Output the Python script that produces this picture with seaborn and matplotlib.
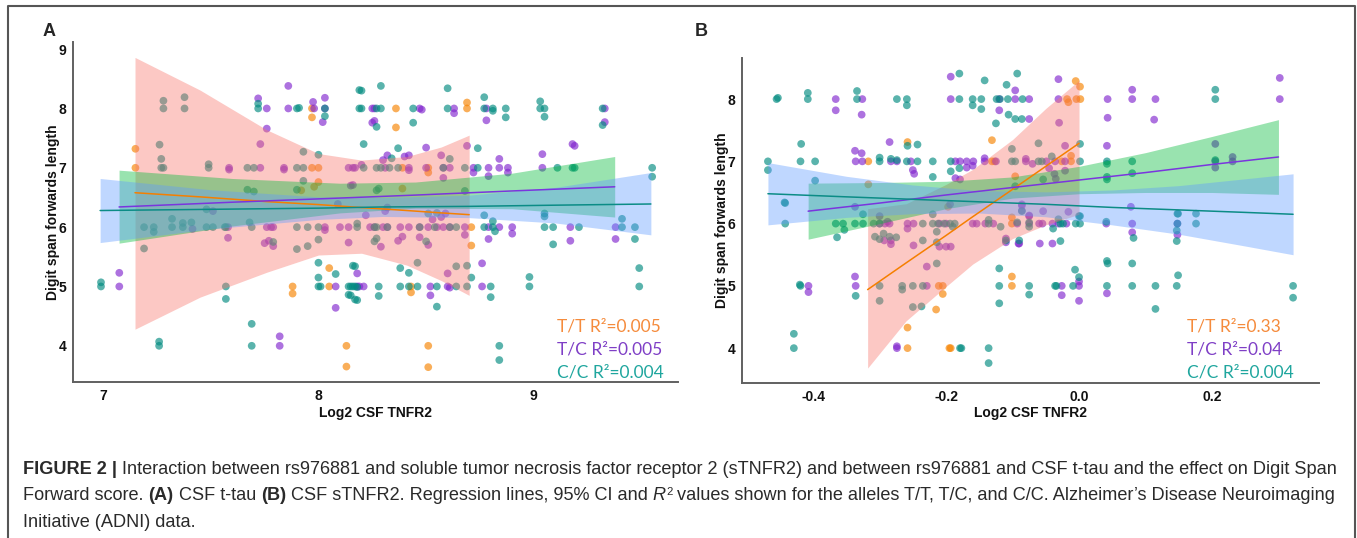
import matplotlib
matplotlib.use("Agg")
import matplotlib.pyplot as plt
import pandas as pd
import seaborn as sns
from matplotlib.lines import Line2D

W, H = 1357, 538

alleles = ["T/T", "T/C", "C/C"]
point_colors = {"T/T": "#F68300", "T/C": "#8126CE", "C/C": "#018B80"}
line_colors = {"T/T": "#F57F00", "T/C": "#7A35DE", "C/C": "#0B8C86"}
band_colors = {"T/T": "#F8766D", "T/C": "#00BA38", "C/C": "#619CFF"}
text_colors = {"T/T": "#F58B3C", "T/C": "#7F3FC6", "C/C": "#1FA69E"}

# ---------------- panel A : CSF t-tau ----------------
a_tt = [(7.15, 7.32), (7.15, 7.00), (7.92, 6.62), (7.98, 6.68), (8.00, 6.76), (7.97, 7.00),
        (8.00, 7.00), (7.97, 8.00), (7.97, 7.85), (7.88, 5.00), (7.88, 4.88), (8.05, 5.31),
        (8.05, 5.00), (8.13, 4.00), (8.13, 3.65), (8.36, 8.00), (8.36, 7.68), (8.69, 8.10),
        (8.69, 8.00), (8.39, 7.00), (8.51, 7.00), (8.51, 6.92), (8.39, 6.65), (8.71, 6.00),
        (8.71, 5.69), (8.43, 5.00), (8.43, 4.90), (8.51, 4.00), (8.51, 3.64)]
a_tc = [(7.075, 5.23), (7.075, 5.00), (7.415, 5.97), (7.51, 6.27), (7.585, 7.00), (7.585, 6.97),
        (7.58, 6.00), (7.58, 5.82), (7.73, 7.00), (7.73, 7.40), (7.76, 7.66), (7.72, 8.17),
        (7.76, 8.00), (7.86, 8.38), (7.86, 8.00), (7.975, 8.11), (7.98, 8.00), (8.03, 8.18),
        (8.03, 8.00), (8.02, 7.77), (7.84, 7.00), (7.84, 6.97), (7.76, 6.00), (7.78, 6.00),
        (7.79, 6.00), (7.75, 5.73), (7.77, 5.77), (7.79, 5.68), (7.82, 4.16), (7.82, 4.00),
        (8.03, 6.00), (8.03, 5.95), (8.08, 5.00), (8.08, 4.64), (8.09, 6.39), (8.10, 6.00),
        (8.14, 6.00), (8.14, 5.74), (8.14, 7.00), (8.16, 7.00), (8.15, 6.70), (8.16, 6.71),
        (8.18, 5.22), (8.18, 5.00), (8.25, 8.00), (8.26, 8.00), (8.25, 7.76), (8.26, 7.79),
        (8.47, 8.00), (8.48, 7.98), (8.63, 8.00), (8.63, 7.92), (8.78, 8.00), (8.78, 7.80),
        (9.33, 8.00), (9.33, 7.77), (8.50, 7.34), (8.69, 7.37), (8.84, 7.15), (9.04, 7.23),
        (9.18, 7.40), (9.19, 7.37), (8.32, 7.21), (8.30, 7.13), (8.40, 7.19), (8.42, 7.21),
        (8.57, 7.21), (8.17, 7.00), (8.20, 7.05), (8.31, 7.00), (8.42, 7.00), (8.42, 6.96),
        (8.50, 7.00), (8.58, 7.00), (8.61, 7.00), (8.58, 6.83), (8.72, 7.00), (8.72, 6.92),
        (8.79, 7.00), (8.79, 6.86), (8.84, 7.00), (8.88, 7.00), (8.88, 6.92), (9.04, 7.00),
        (8.22, 6.20), (8.31, 6.27), (8.32, 6.33), (8.53, 6.13), (8.57, 6.17), (8.59, 6.23),
        (8.24, 6.00), (8.26, 6.00), (8.30, 6.00), (8.32, 6.00), (8.38, 6.00), (8.42, 6.00),
        (8.47, 6.00), (8.51, 6.00), (8.55, 6.00), (8.58, 6.00), (8.61, 6.00), (8.68, 6.00),
        (8.79, 6.00), (8.84, 6.00), (8.90, 6.00), (9.17, 6.00), (9.38, 6.00), (8.90, 5.89),
        (8.79, 5.80), (9.17, 5.77), (9.38, 5.80), (8.29, 5.67), (8.37, 5.77), (8.39, 5.84),
        (8.47, 5.83), (8.51, 5.70), (8.68, 5.87), (8.19, 5.00), (8.21, 5.00), (8.52, 5.00),
        (8.52, 4.85), (8.60, 5.00), (8.61, 4.98), (8.60, 5.22), (8.76, 5.39), (8.76, 5.00)]
a_cc = [(6.99, 5.07), (6.99, 5.00), (7.19, 5.64), (7.26, 4.07), (7.26, 4.00), (7.19, 6.00),
        (7.235, 6.00), (7.235, 5.92), (7.32, 6.14), (7.32, 6.00), (7.37, 6.07), (7.37, 6.00),
        (7.41, 6.08), (7.48, 6.30), (7.48, 6.00), (7.51, 6.00), (7.565, 6.00), (7.57, 6.00),
        (7.57, 5.00), (7.57, 4.79), (7.68, 6.08), (7.69, 6.00), (7.69, 4.37), (7.69, 4.00),
        (7.79, 5.75), (7.90, 6.00), (7.95, 6.00), (7.90, 5.63), (7.95, 5.68), (8.00, 6.00),
        (8.00, 5.79), (8.00, 5.40), (8.00, 5.15), (8.00, 5.00), (8.01, 5.00), (8.08, 5.21),
        (8.18, 6.06), (8.16, 5.35), (8.14, 5.00), (8.16, 5.00), (8.18, 4.99), (8.14, 4.86),
        (8.17, 4.78), (7.28, 8.13), (7.28, 8.00), (7.378, 8.19), (7.378, 8.00), (7.262, 7.39),
        (7.27, 7.15), (7.27, 7.00), (7.28, 7.00), (7.49, 7.06), (7.49, 7.00), (7.67, 7.00),
        (7.70, 7.00), (7.72, 8.08), (7.72, 8.00), (7.90, 8.00), (7.91, 8.01), (8.03, 8.00),
        (8.03, 7.87), (7.90, 7.00), (7.93, 7.00), (7.93, 7.27), (8.00, 7.22), (7.93, 6.78),
        (7.90, 6.63), (7.67, 6.63), (7.70, 6.60), (8.19, 8.31), (8.19, 8.00), (8.20, 8.30),
        (8.20, 8.00), (8.27, 8.00), (8.29, 8.00), (8.29, 8.38), (8.27, 7.69), (8.44, 8.00),
        (8.44, 7.76), (8.60, 8.34), (8.60, 8.00), (8.77, 8.19), (8.77, 8.00), (8.81, 8.00),
        (8.81, 7.96), (8.87, 8.00), (8.87, 7.85), (9.03, 8.12), (9.03, 8.00), (9.05, 8.00),
        (9.05, 7.86), (9.32, 8.00), (9.32, 7.72), (8.21, 7.40), (8.37, 7.33), (8.74, 7.33),
        (8.34, 7.16), (8.61, 7.15), (8.21, 7.00), (8.27, 7.00), (8.29, 7.00), (8.33, 7.00),
        (8.37, 7.00), (8.58, 7.00), (8.68, 7.00), (8.74, 7.00), (9.11, 7.00), (9.18, 7.00),
        (9.19, 7.00), (9.55, 7.00), (9.55, 6.85), (8.27, 6.62), (8.28, 6.65), (8.68, 6.61),
        (8.51, 6.23), (8.55, 6.24), (8.77, 6.20), (9.05, 6.23), (9.05, 6.18), (9.41, 6.14),
        (8.18, 6.00), (8.26, 6.00), (8.27, 6.00), (8.32, 6.00), (8.47, 6.00), (8.54, 6.00),
        (8.61, 6.00), (8.64, 6.00), (8.77, 6.00), (8.81, 6.00), (9.05, 6.00), (9.09, 6.00),
        (9.21, 6.00), (9.41, 6.00), (9.47, 6.00), (8.81, 6.10), (8.82, 5.93), (9.09, 5.71),
        (9.47, 5.80), (8.26, 5.76), (8.27, 5.81), (8.50, 5.76), (8.17, 5.34), (8.15, 5.00),
        (8.17, 5.00), (8.28, 5.00), (8.38, 5.00), (8.42, 5.00), (8.46, 5.00), (8.55, 5.00),
        (8.64, 5.00), (8.69, 5.00), (8.80, 5.00), (8.15, 4.85), (8.18, 4.77), (8.28, 4.84),
        (8.55, 4.66), (8.38, 5.31), (8.42, 5.23), (8.46, 5.40), (8.64, 5.34), (8.69, 5.35),
        (8.71, 5.15), (8.80, 4.82), (8.98, 5.16), (8.98, 5.00), (9.49, 5.31), (9.49, 5.00),
        (8.84, 4.00), (8.84, 3.76)]

# fitted lines and 95% CI
a_tt_band_x = [7.148, 7.45, 7.76, 8.0, 8.2, 8.41, 8.57, 8.70]
a_tt_fit = [6.58, 6.51, 6.43, 6.38, 6.33, 6.28, 6.24, 6.21]
a_tt_lo = [4.28, 4.82, 5.24, 5.53, 5.56, 5.36, 5.10, 4.85]
a_tt_hi = [8.86, 8.31, 7.64, 7.24, 7.13, 7.19, 7.35, 7.55]
a_tc_band_x = [7.074, 7.6, 8.1, 8.45, 8.9, 9.376]
a_tc_fit = [6.34, 6.42, 6.49, 6.54, 6.61, 6.68]
a_tc_lo = [5.73, 6.02, 6.24, 6.32, 6.31, 6.17]
a_tc_hi = [6.96, 6.82, 6.74, 6.76, 6.91, 7.19]
a_cc_band_x = [6.986, 7.5, 8.0, 8.3, 8.7, 9.1, 9.544]
a_cc_fit = [6.28, 6.30, 6.32, 6.34, 6.35, 6.37, 6.39]
a_cc_lo = [5.74, 5.97, 6.13, 6.18, 6.16, 6.07, 5.87]
a_cc_hi = [6.82, 6.63, 6.51, 6.50, 6.54, 6.67, 6.92]
a_r2 = ["0.005", "0.005", "0.004"]

# ---------------- panel B : CSF sTNFR2 ----------------
b_tt = [(-0.317, 7.00), (-0.317, 6.63), (-0.258, 7.31), (-0.131, 7.34), (-0.131, 7.00),
        (-0.127, 7.00), (-0.005, 8.29), (0.0015, 8.20), (-0.018, 8.00), (-0.016, 7.95),
        (-0.004, 8.00), (0.002, 8.00), (-0.012, 7.09), (-0.026, 7.00), (-0.012, 7.00),
        (-0.096, 6.76), (-0.258, 4.00), (-0.258, 4.33), (-0.211, 5.00), (-0.205, 5.00),
        (-0.205, 4.87), (-0.215, 4.62), (-0.195, 4.00), (-0.193, 4.00), (-0.197, 6.27),
        (-0.101, 6.10), (-0.101, 6.00), (-0.101, 5.15), (-0.101, 5.00)]
b_tc = [(-0.366, 8.00), (-0.366, 7.82), (-0.326, 8.00), (-0.327, 7.75), (-0.193, 8.36),
        (-0.193, 8.00), (-0.12, 8.00), (-0.12, 7.82), (-0.337, 7.17), (-0.327, 7.13),
        (-0.336, 7.00), (-0.326, 7.00), (-0.285, 7.31), (-0.283, 7.00), (-0.274, 7.00),
        (-0.253, 7.00), (-0.25, 6.86), (-0.248, 6.80), (-0.186, 7.00), (-0.179, 7.00),
        (-0.169, 7.00), (-0.159, 7.00), (-0.142, 7.00), (-0.142, 7.05), (-0.125, 7.00),
        (-0.169, 6.90), (-0.16, 6.93), (-0.186, 6.73), (-0.179, 6.71), (-0.096, 8.14),
        (-0.096, 8.00), (-0.075, 8.00), (-0.031, 8.32), (-0.031, 8.00), (0.043, 8.00),
        (0.08, 8.15), (0.08, 8.00), (0.115, 8.00), (0.043, 7.70), (-0.075, 7.68),
        (0.113, 7.67), (0.302, 8.34), (0.302, 8.00), (-0.03, 7.62), (-0.021, 7.25),
        (0.042, 7.25), (0.205, 7.28), (0.205, 7.00), (0.205, 6.90), (0.231, 7.07),
        (0.231, 7.00), (-0.08, 7.04), (-0.08, 7.00), (-0.07, 6.96), (-0.049, 7.00),
        (-0.036, 7.00), (-0.021, 7.00), (-0.045, 6.89), (-0.037, 6.80), (-0.035, 6.72),
        (-0.021, 6.85), (0.078, 6.27), (-0.086, 6.29), (-0.075, 6.13), (-0.054, 6.20),
        (-0.016, 6.19), (-0.407, 5.00), (-0.407, 4.90), (-0.337, 6.27), (-0.337, 5.15),
        (-0.336, 5.00), (-0.30, 6.12), (-0.30, 6.00), (-0.292, 6.00), (-0.288, 6.03),
        (-0.285, 6.00), (-0.293, 5.73), (-0.283, 5.73), (-0.283, 5.67), (-0.274, 4.03),
        (-0.274, 4.00), (-0.258, 6.00), (-0.249, 6.00), (-0.258, 5.92), (-0.249, 5.65),
        (-0.229, 5.00), (-0.229, 5.31), (-0.21, 6.00), (-0.20, 6.00), (-0.21, 5.63),
        (-0.20, 5.63), (-0.193, 5.63), (-0.194, 6.31), (-0.16, 6.00), (-0.154, 6.00),
        (-0.141, 6.00), (-0.129, 6.00), (-0.11, 5.76), (-0.11, 5.70), (-0.091, 5.68),
        (-0.093, 6.00), (-0.086, 6.31), (-0.086, 6.21), (-0.075, 6.12), (-0.075, 6.00),
        (-0.06, 6.00), (-0.055, 6.00), (-0.04, 6.00), (-0.031, 6.00), (-0.019, 6.00),
        (-0.09, 5.68), (-0.059, 5.68), (-0.04, 5.68), (0.0, 5.07), (0.0, 5.00),
        (0.0, 4.76), (-0.026, 5.00), (-0.026, 4.85), (0.042, 4.88), (0.041, 6.00),
        (0.08, 6.00), (0.08, 5.86), (0.148, 5.82), (0.148, 6.00)]
b_cc = [(-0.455, 8.00), (-0.453, 8.02), (-0.408, 8.10), (-0.408, 8.00), (-0.334, 8.13),
        (-0.334, 8.00), (-0.274, 8.00), (-0.259, 8.00), (-0.259, 7.90), (-0.18, 8.41),
        (-0.18, 8.00), (-0.16, 8.00), (-0.16, 7.90), (-0.147, 8.00), (-0.147, 7.84),
        (-0.142, 8.30), (-0.125, 7.61), (-0.124, 8.00), (-0.119, 8.00), (-0.109, 8.23),
        (-0.107, 8.00), (-0.106, 7.75), (-0.093, 8.41), (-0.085, 8.00), (-0.096, 7.68),
        (-0.086, 7.68), (0.205, 8.15), (0.205, 8.00), (-0.418, 7.28), (-0.468, 7.00),
        (-0.468, 6.86), (-0.419, 7.00), (-0.397, 7.00), (-0.397, 6.69), (-0.443, 6.34),
        (-0.30, 7.06), (-0.30, 7.00), (-0.283, 7.04), (-0.274, 7.02), (-0.259, 7.00),
        (-0.258, 7.25), (-0.243, 7.27), (-0.243, 7.00), (-0.22, 7.00), (-0.22, 6.75),
        (-0.193, 7.00), (-0.193, 6.84), (-0.18, 6.89), (-0.101, 7.20), (-0.101, 7.00),
        (-0.096, 7.00), (-0.061, 7.00), (-0.056, 7.00), (-0.061, 7.29), (-0.041, 7.08),
        (0.0015, 7.28), (0.0015, 7.00), (0.042, 7.00), (0.042, 6.96), (0.08, 7.00),
        (0.205, 7.02), (-0.054, 6.71), (-0.096, 6.60), (0.042, 6.75), (0.042, 6.71),
        (0.08, 6.81), (0.149, 6.16), (0.176, 6.16), (-0.086, 6.20), (-0.031, 6.07),
        (0.0, 6.12), (-0.442, 6.33), (-0.442, 6.00), (-0.429, 4.23), (-0.429, 4.00),
        (-0.42, 5.02), (-0.419, 5.00), (-0.364, 5.78), (-0.366, 6.00), (-0.355, 6.00),
        (-0.353, 5.90), (-0.337, 6.00), (-0.325, 6.00), (-0.325, 6.15), (-0.336, 4.84),
        (-0.309, 6.00), (-0.30, 6.00), (-0.307, 5.79), (-0.30, 5.75), (-0.294, 5.84),
        (-0.285, 5.79), (-0.275, 5.78), (-0.30, 5.00), (-0.30, 4.76), (-0.266, 5.00),
        (-0.266, 4.94), (-0.25, 5.00), (-0.235, 5.00), (-0.25, 4.66), (-0.237, 4.67),
        (-0.235, 5.73), (-0.235, 6.00), (-0.22, 6.15), (-0.22, 6.00), (-0.212, 6.00),
        (-0.203, 6.00), (-0.194, 6.00), (-0.187, 6.00), (-0.214, 5.87), (-0.214, 5.70),
        (-0.214, 5.36), (-0.179, 4.00), (-0.177, 4.00), (-0.19, 5.95), (-0.136, 6.06),
        (-0.136, 6.00), (-0.136, 4.00), (-0.136, 3.76), (-0.12, 5.28), (-0.12, 5.00),
        (-0.12, 4.72), (-0.118, 5.95), (-0.11, 5.73), (-0.093, 6.02), (-0.075, 6.02),
        (-0.075, 5.95), (-0.028, 6.00), (-0.024, 6.00), (-0.005, 6.00), (0.0015, 6.00),
        (0.0015, 6.12), (-0.039, 5.92), (-0.028, 5.72), (-0.09, 5.73), (-0.006, 5.26),
        (0.0, 5.14), (-0.009, 5.00), (-0.075, 5.00), (-0.075, 4.86), (-0.036, 5.00),
        (-0.034, 5.00), (0.042, 5.40), (0.043, 5.36), (0.042, 5.00), (0.041, 6.03),
        (0.082, 5.77), (0.08, 5.36), (0.08, 5.00), (0.115, 5.00), (0.115, 4.63),
        (0.148, 6.16), (0.148, 6.00), (0.147, 5.89), (0.147, 5.72), (0.149, 5.17),
        (0.147, 5.00), (0.176, 6.00), (0.322, 5.00), (0.322, 4.81)]

b_tt_band_x = [-0.318, -0.26, -0.2, -0.16, -0.1, -0.05, 0.0]
b_tt_fit = [4.94, 5.37, 5.81, 6.11, 6.55, 6.92, 7.29]
b_tt_lo = [3.68, 4.44, 4.99, 5.35, 5.76, 5.98, 6.15]
b_tt_hi = [6.24, 6.32, 6.63, 6.87, 7.35, 7.85, 8.30]
b_tc_band_x = [-0.4075, -0.3, -0.2, -0.1, 0.0, 0.1, 0.2, 0.3]
b_tc_fit = [6.20, 6.33, 6.46, 6.58, 6.70, 6.82, 6.95, 7.07]
b_tc_lo = [5.75, 6.00, 6.24, 6.41, 6.48, 6.50, 6.50, 6.47]
b_tc_hi = [6.65, 6.66, 6.68, 6.75, 6.92, 7.14, 7.40, 7.67]
b_cc_band_x = [-0.468, -0.35, -0.25, -0.15, -0.05, 0.05, 0.15, 0.25, 0.322]
b_cc_fit = [6.48, 6.43, 6.39, 6.35, 6.31, 6.26, 6.22, 6.18, 6.15]
b_cc_lo = [5.98, 6.10, 6.16, 6.17, 6.11, 5.98, 5.83, 5.64, 5.50]
b_cc_hi = [6.98, 6.76, 6.62, 6.53, 6.51, 6.54, 6.61, 6.72, 6.80]
b_r2 = ["0.33", "0.04", "0.004"]

sns.set_theme(style="white")
plt.rcParams["font.family"] = ["Liberation Sans", "DejaVu Sans"]
plt.rcParams["axes.unicode_minus"] = False

fig = plt.figure(figsize=(W / 100, H / 100), dpi=100)
fig.patch.set_facecolor("white")


def to_frame(groups):
    rows = []
    for allele, pts in groups.items():
        for x, y in pts:
            rows.append({"x": x, "y": y, "allele": allele})
    return pd.DataFrame(rows)


def draw_panel(ax, points, bands, xlim, ylim, xticks, yticks, xfmt):
    df = to_frame(points)
    sns.scatterplot(data=df, x="x", y="y", hue="allele", hue_order=alleles,
                    palette=point_colors, s=31, alpha=0.65, linewidth=0,
                    legend=False, ax=ax, zorder=2)
    fit_rows = []
    for allele in alleles:
        bx, fit, lo, hi = bands[allele]
        ax.fill_between(bx, lo, hi, color=band_colors[allele], alpha=0.4,
                        linewidth=0, zorder=3)
        for x, y in zip(bx, fit):
            fit_rows.append({"x": x, "fit": y, "allele": allele})
    fits = pd.DataFrame(fit_rows)
    sns.lineplot(data=fits, x="x", y="fit", hue="allele", hue_order=alleles,
                 palette=line_colors, linewidth=1.1, estimator=None, sort=False,
                 legend=False, ax=ax, zorder=4)
    ax.set_xlim(*xlim)
    ax.set_ylim(*ylim)
    ax.set_xticks(xticks)
    ax.set_xticklabels([xfmt.format(v) for v in xticks])
    ax.set_yticks(yticks)
    ax.set_yticklabels([str(v) for v in yticks])
    sns.despine(ax=ax)
    for side in ["left", "bottom"]:
        ax.spines[side].set_color("#606060")
        ax.spines[side].set_linewidth(1.4)
    ax.tick_params(axis="both", length=2.5, width=1, color="#606060", pad=2.5,
                   labelsize=10, labelcolor="#111111")
    for lab in ax.get_xticklabels() + ax.get_yticklabels():
        lab.set_fontweight("bold")
    ax.set_xlabel("Log2 CSF TNFR2", fontsize=10, fontweight="bold", color="#111111")
    ax.set_ylabel("Digit span forwards length", fontsize=10, fontweight="bold",
                  color="#111111")
    ax.set_facecolor("white")


ax_a = fig.add_axes([73 / W, 1 - 382 / H, 605 / W, 340 / H])
draw_panel(ax_a, {"T/T": a_tt, "T/C": a_tc, "C/C": a_cc},
           {"T/T": (a_tt_band_x, a_tt_fit, a_tt_lo, a_tt_hi),
            "T/C": (a_tc_band_x, a_tc_fit, a_tc_lo, a_tc_hi),
            "C/C": (a_cc_band_x, a_cc_fit, a_cc_lo, a_cc_hi)},
           (6.86, 9.67), (3.39, 9.12), [7, 8, 9], [4, 5, 6, 7, 8, 9], "{:d}")
ax_a.xaxis.set_label_coords(0.5, -0.072)
ax_a.yaxis.set_label_coords(-0.021, 0.5)

ax_b = fig.add_axes([742 / W, 1 - 383 / H, 577 / W, 325 / H])
draw_panel(ax_b, {"T/T": b_tt, "T/C": b_tc, "C/C": b_cc},
           {"T/T": (b_tt_band_x, b_tt_fit, b_tt_lo, b_tt_hi),
            "T/C": (b_tc_band_x, b_tc_fit, b_tc_lo, b_tc_hi),
            "C/C": (b_cc_band_x, b_cc_fit, b_cc_lo, b_cc_hi)},
           (-0.507, 0.361), (3.44, 8.66), [-0.4, -0.2, 0.0, 0.2], [4, 5, 6, 7, 8],
           "{:.1f}")
ax_b.xaxis.set_label_coords(0.5, -0.072)
ax_b.yaxis.set_label_coords(-0.023, 0.5)

# panel letters
fig.text(49 / W, 1 - 31.5 / H, "A", fontsize=13, fontweight="bold", ha="center", va="center")
fig.text(701 / W, 1 - 31.5 / H, "B", fontsize=13, fontweight="bold", ha="center", va="center")

# R^2 annotations
for left, r2 in [(557, a_r2), (1187, b_r2)]:
    for i, allele in enumerate(alleles):
        fig.text(left / W, 1 - (326 + 23.5 * i) / H, f"{allele} R\u00b2={r2[i]}",
                 fontsize=12.5, family=["Lato", "DejaVu Sans"], color=text_colors[allele],
                 ha="left", va="center")

# outer frame (open at the bottom, image is cropped)
frame = Line2D([8 / W, 8 / W, 1355 / W, 1355 / W], [0, 1 - 6 / H, 1 - 6 / H, 0],
               transform=fig.transFigure, color="#555555", linewidth=1.5)
fig.add_artist(frame)

# caption, written as runs of mixed style
cap_color = "#2a2a2a"
renderer = fig.canvas.get_renderer()
N = {"weight": "normal", "style": "normal"}
B = {"weight": "bold", "style": "normal"}
I = {"weight": "normal", "style": "italic"}
SUP = {"weight": "normal", "style": "normal", "sup": True}
line1 = [("FIGURE 2 |", B),
         (" Interaction between rs976881 and soluble tumor necrosis factor receptor 2 (sTNFR2)"
          " and between rs976881 and CSF t-tau and the effect on Digit Span", N)]
line2 = [("Forward score. ", N), ("(A)", B), (" CSF t-tau ", N), ("(B)", B),
         (" CSF sTNFR2. Regression lines, 95% CI and ", N), ("R", I), ("2", SUP),
         (" values shown for the alleles T/T, T/C, and C/C. Alzheimer\u2019s Disease Neuroimaging", N)]
line3 = [("Initiative (ADNI) data.", N)]


def place_runs(runs, x0, base_y, size):
    made = []
    probe = fig.text(0, 0, "x x", fontsize=size)
    probe2 = fig.text(0, 0, "xx", fontsize=size)
    space = probe.get_window_extent(renderer).width - probe2.get_window_extent(renderer).width
    probe.remove()
    probe2.remove()
    x = x0
    for text, st in runs:
        lead = len(text) - len(text.lstrip(" "))
        trail = len(text) - len(text.rstrip(" "))
        x += lead * space
        body = text.strip(" ")
        fs = size * (0.62 if st.get("sup") else 1.0)
        y = base_y - (size * 0.45 if st.get("sup") else 0)
        t = fig.text(x / W, 1 - y / H, body, fontsize=fs, fontweight=st["weight"],
                     fontstyle=st["style"], color=cap_color, ha="left", va="baseline")
        made.append(t)
        x += t.get_window_extent(renderer).width + trail * space
    return made, x - x0


tmp, width = place_runs(line1, 23, 474, 12)
for t in tmp:
    t.remove()
cap_size = 12 * 1315 / width
place_runs(line1, 23, 474, cap_size)
place_runs(line2, 23, 500.5, cap_size)
place_runs(line3, 23, 527, cap_size)

fig.savefig("out.png", dpi=100, facecolor="white")
